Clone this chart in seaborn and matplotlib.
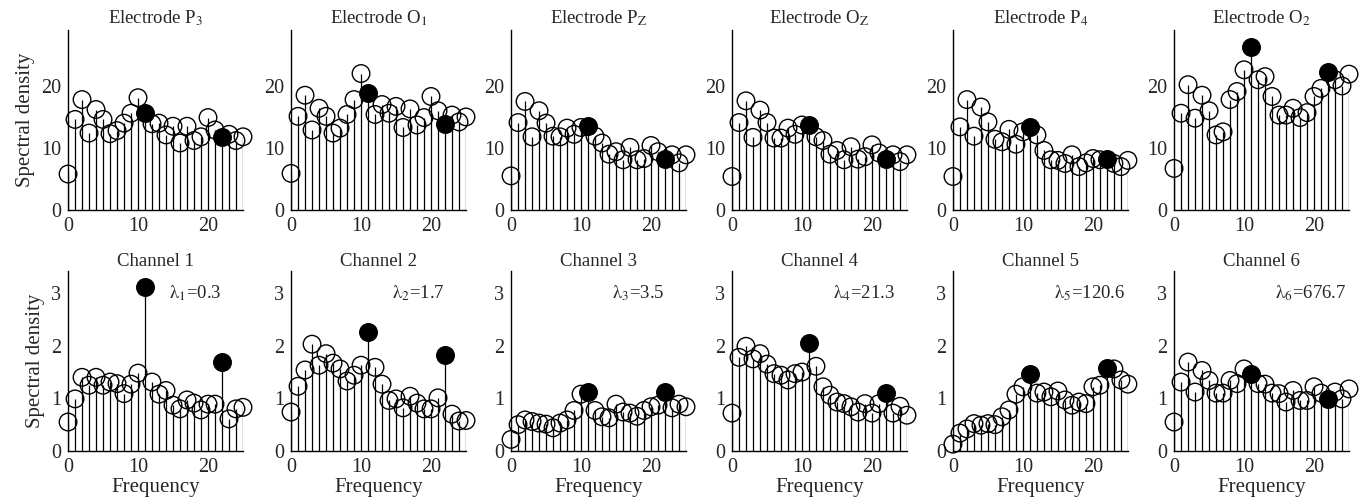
import matplotlib
matplotlib.use("Agg")
import matplotlib.pyplot as plt
import seaborn as sns
import numpy as np
import pandas as pd

sns.set_style("white")
plt.rcParams["font.family"] = ["Liberation Serif", "DejaVu Serif"]
plt.rcParams["mathtext.fontset"] = "stix"

freq = list(range(26))
peaks = [11, 22]

electrode_titles = ["Electrode P$_{3}$", "Electrode O$_{1}$", "Electrode P$_{\\mathrm{Z}}$",
                    "Electrode O$_{\\mathrm{Z}}$", "Electrode P$_{4}$", "Electrode O$_{2}$"]
channel_titles = ["Channel 1", "Channel 2", "Channel 3", "Channel 4", "Channel 5", "Channel 6"]
lambdas = ["0.3", "1.7", "3.5", "21.3", "120.6", "676.7"]

# spectral density of the electrode signals (top row)
p3 = [5.8, 14.6, 17.8, 12.4, 16.2, 14.6, 12.3, 12.8, 14.0, 15.6, 18.1, 15.6, 13.9,
      14.0, 12.1, 13.5, 10.8, 13.5, 11.2, 11.8, 14.9, 12.9, 11.7, 12.2, 11.2, 11.8]
o1 = [5.9, 15.1, 18.5, 12.9, 16.4, 15.1, 12.4, 13.2, 15.4, 17.8, 22.0, 18.9, 15.4,
      17.0, 15.6, 16.7, 13.3, 16.3, 13.7, 14.9, 18.3, 16.0, 13.9, 15.3, 14.2, 15.0]
pz = [5.5, 14.1, 17.5, 11.8, 16.0, 14.0, 11.9, 11.8, 13.2, 12.2, 13.3, 13.5, 11.9,
      10.8, 9.0, 9.4, 8.1, 10.1, 8.1, 8.3, 10.4, 9.4, 8.3, 8.9, 7.6, 8.9]
oz = [5.4, 14.1, 17.6, 11.7, 16.1, 14.1, 11.6, 11.6, 13.2, 12.2, 13.7, 13.7, 11.8,
      11.2, 9.0, 9.6, 8.1, 10.2, 8.2, 8.6, 10.5, 9.2, 8.3, 8.9, 7.8, 8.9]
p4 = [5.4, 13.4, 17.8, 11.9, 16.6, 14.2, 11.4, 11.0, 13.0, 10.6, 12.6, 13.3, 12.1,
      9.6, 8.1, 8.0, 7.5, 8.9, 7.0, 7.6, 8.3, 8.1, 8.3, 7.5, 7.0, 8.0]
o2 = [6.7, 15.6, 20.2, 14.8, 18.5, 16.0, 12.1, 12.6, 17.8, 19.1, 22.6, 26.3, 21.0,
      21.5, 18.3, 15.3, 15.3, 16.4, 14.9, 15.7, 18.3, 19.6, 22.2, 21.0, 20.0, 21.9]

# spectral density of the separated channels (bottom row)
ch1 = [0.55, 0.99, 1.40, 1.25, 1.40, 1.25, 1.31, 1.28, 1.09, 1.27, 1.48, 3.11, 1.31,
       1.08, 1.15, 0.87, 0.80, 0.97, 0.91, 0.78, 0.89, 0.89, 1.69, 0.61, 0.80, 0.83]
ch2 = [0.74, 1.23, 1.54, 2.03, 1.63, 1.85, 1.67, 1.56, 1.33, 1.44, 1.63, 2.26, 1.59,
       1.27, 0.96, 0.99, 0.82, 1.04, 0.91, 0.80, 0.80, 1.01, 1.82, 0.70, 0.57, 0.58]
ch3 = [0.22, 0.50, 0.59, 0.56, 0.53, 0.51, 0.44, 0.53, 0.59, 0.77, 1.08, 1.12, 0.77,
       0.65, 0.63, 0.89, 0.74, 0.72, 0.66, 0.77, 0.84, 0.87, 1.12, 0.82, 0.89, 0.84]
ch4 = [0.72, 1.78, 1.99, 1.75, 1.85, 1.65, 1.47, 1.44, 1.35, 1.47, 1.50, 2.05, 1.61,
       1.22, 1.06, 0.93, 0.90, 0.84, 0.74, 0.90, 0.72, 0.90, 1.10, 0.72, 0.85, 0.68]
ch5 = [0.13, 0.34, 0.42, 0.52, 0.49, 0.52, 0.50, 0.65, 0.78, 1.08, 1.22, 1.46, 1.10,
       1.12, 1.03, 1.14, 0.97, 0.87, 0.93, 0.90, 1.22, 1.25, 1.58, 1.56, 1.35, 1.27]
ch6 = [0.55, 1.31, 1.69, 1.12, 1.53, 1.34, 1.10, 1.10, 1.34, 1.28, 1.56, 1.47, 1.28,
       1.27, 1.10, 1.09, 0.93, 1.15, 0.96, 0.96, 1.22, 1.10, 0.99, 1.12, 0.99, 1.18]

electrodes = [p3, o1, pz, oz, p4, o2]
channels = [ch1, ch2, ch3, ch4, ch5, ch6]

fig = plt.figure(figsize=(13.69, 5.04), dpi=100)
lefts = [0.0497, 0.2126, 0.3733, 0.5347, 0.6961, 0.8576]
w, h = 0.1278, 0.357


def stem_panel(ax, vals, ymax, yticks):
    df = pd.DataFrame({"freq": freq, "density": vals})
    df["peak"] = df["freq"].isin(peaks)
    ax.vlines(df["freq"], 0, df["density"], color="black", lw=0.9, zorder=1)
    sns.scatterplot(data=df[~df["peak"]], x="freq", y="density", ax=ax, s=160,
                    facecolor="none", edgecolor="black", linewidth=1.0,
                    zorder=2, clip_on=False, legend=False)
    sns.scatterplot(data=df[df["peak"]], x="freq", y="density", ax=ax, s=160,
                    color="black", edgecolor="black", linewidth=1.0,
                    zorder=3, clip_on=False, legend=False)
    ax.set_xlim(0, 25)
    ax.set_ylim(0, ymax)
    ax.set_xticks([0, 10, 20])
    ax.set_yticks(yticks)
    sns.despine(ax=ax)
    for s in ["left", "bottom"]:
        ax.spines[s].set_color("black")
        ax.spines[s].set_linewidth(1.0)
    ax.tick_params(length=0, labelsize=14.5, pad=5)
    ax.set_xlabel("")
    ax.set_ylabel("")


for i in range(6):
    ax = fig.add_axes([lefts[i], 0.5833, w, h])
    stem_panel(ax, electrodes[i], 29, [0, 10, 20])
    ax.text(0.5, 1.04, electrode_titles[i], transform=ax.transAxes,
            ha="center", va="baseline", fontsize=13.5)
    if i == 0:
        ax.set_ylabel("Spectral density", fontsize=15)

    ax = fig.add_axes([lefts[i], 0.1052, w, h])
    stem_panel(ax, channels[i], 3.42, [0, 1, 2, 3])
    ax.text(0.5, 1.03, channel_titles[i], transform=ax.transAxes,
            ha="center", va="baseline", fontsize=13.5)
    ax.text(14.4, 3.0, "$\\mathrm{λ}_{%d}$=%s" % (i + 1, lambdas[i]),
            ha="left", va="center", fontsize=13.5)
    ax.set_xlabel("Frequency", fontsize=15, labelpad=1)
    if i == 0:
        ax.set_ylabel("Spectral density", fontsize=15)

fig.savefig("out.png", dpi=100)
